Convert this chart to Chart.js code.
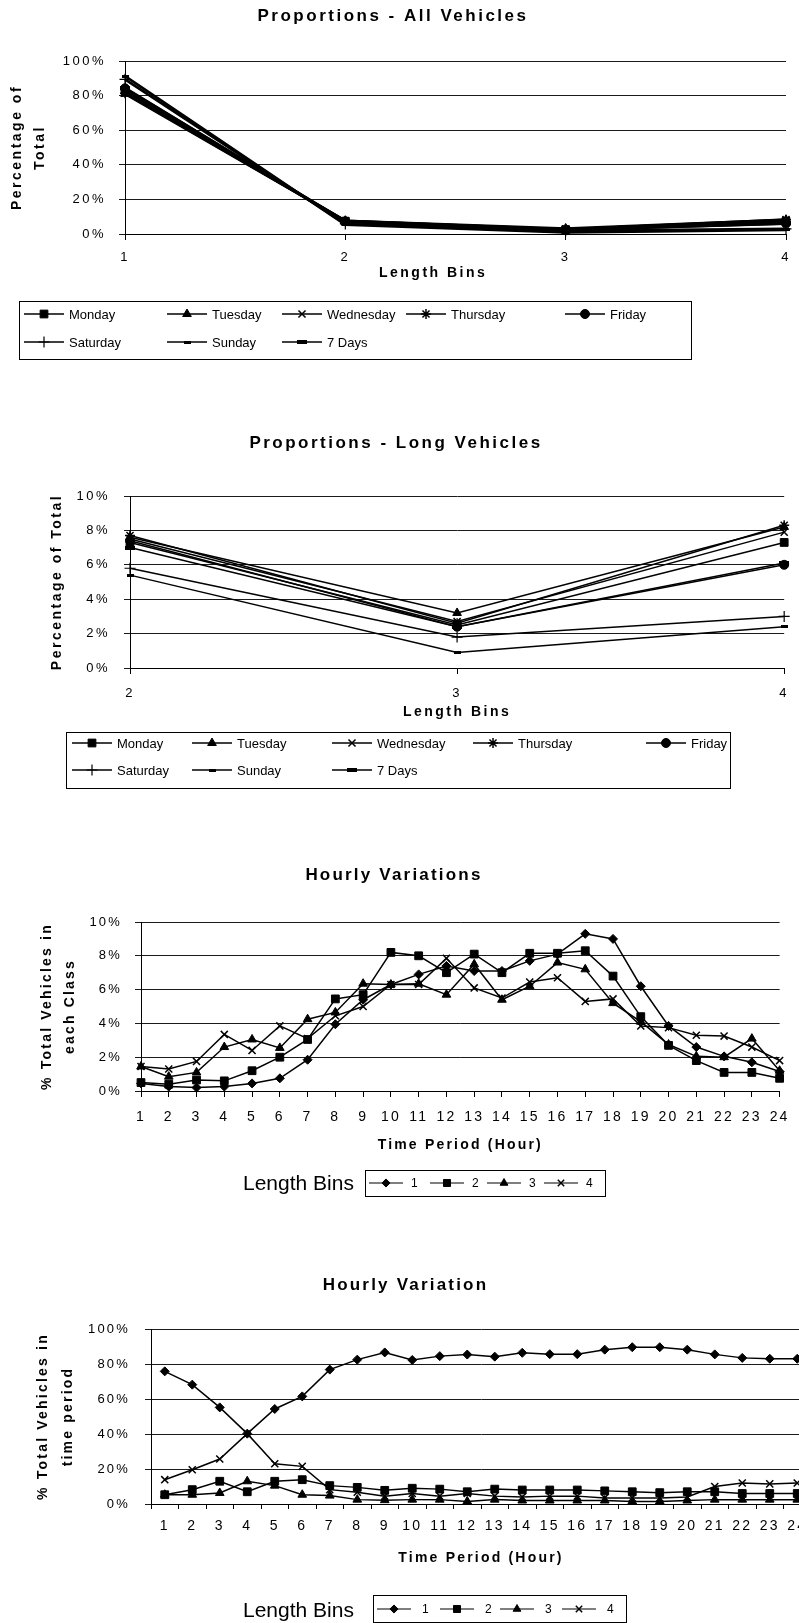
<!DOCTYPE html>
<html>
<head>
<meta charset="utf-8">
<title>Vehicle length proportions and hourly variation</title>
<script src="https://cdn.jsdelivr.net/npm/chart.js@4.4.0/dist/chart.umd.min.js"></script>
<style>
  html, body { margin: 0; padding: 0; background: #fff; width: 799px; height: 1623px; overflow: hidden; position: relative; }
  canvas { position: absolute; left: 0; }
</style>
</head>
<body>
<canvas id="allVehicles" width="799" height="380" style="top:0px"></canvas>
<canvas id="longVehicles" width="799" height="390" style="top:420px"></canvas>
<canvas id="hourlyClass" width="799" height="360" style="top:850px"></canvas>
<canvas id="hourlyPeriod" width="820" height="373" style="top:1250px"></canvas>
<script>
// ---- data -------------------------------------------------------------
const lengthBins = ['1', '2', '3', '4'];
const longBins = ['2', '3', '4'];
const dayNames = ['Monday', 'Tuesday', 'Wednesday', 'Thursday', 'Friday', 'Saturday', 'Sunday', '7 Days'];

// share of all vehicles (%) in length bins 1..4
const monday    = [82.9, 7.3, 2.5, 7.3];
const tuesday   = [81.0, 7.6, 3.2, 8.2];
const wednesday = [81.9, 7.5, 2.7, 7.9];
const thursday  = [81.4, 7.7, 2.6, 8.3];
const friday    = [84.2, 7.4, 2.4, 6.0];
const saturday  = [89.4, 5.8, 1.8, 3.0];
const sunday    = [91.3, 5.4, 0.9, 2.4];
const sevenDays = [84.5, 7.0, 2.4, 6.1];
const daySeries = [monday, tuesday, wednesday, thursday, friday, saturday, sunday, sevenDays];

const hours = ['1','2','3','4','5','6','7','8','9','10','11','12','13','14','15','16','17','18','19','20','21','22','23','24'];
const binLabels = ['1', '2', '3', '4'];

// % of each length class's daily total falling in each hour
const classBin1 = [0.45, 0.26, 0.2, 0.26, 0.45, 0.75, 1.85, 3.95, 5.4, 6.3, 6.9, 7.4, 7.1, 7.1, 7.7, 8.1, 9.3, 9.0, 6.2, 3.85, 2.6, 2.05, 1.7, 1.15];
const classBin2 = [0.5, 0.4, 0.65, 0.6, 1.2, 2.0, 3.05, 5.45, 5.7, 8.2, 8.0, 7.0, 8.1, 7.0, 8.15, 8.15, 8.3, 6.8, 4.4, 2.7, 1.8, 1.1, 1.1, 0.75];
const classBin3 = [1.45, 0.85, 1.1, 2.6, 3.05, 2.55, 4.25, 4.65, 6.35, 6.3, 6.35, 5.7, 7.5, 5.4, 6.2, 7.6, 7.2, 5.2, 4.1, 2.75, 2.05, 2.0, 3.1, 1.2];
const classBin4 = [1.45, 1.3, 1.75, 3.35, 2.4, 3.85, 3.1, 4.45, 5.0, 6.3, 6.3, 7.85, 6.1, 5.5, 6.45, 6.7, 5.3, 5.45, 3.85, 3.75, 3.3, 3.25, 2.6, 1.8];

// % of each hour's traffic belonging to each length class
const periodBin1 = [75.8, 68.2, 55.2, 40.2, 54.3, 61.5, 76.8, 82.5, 86.6, 82.3, 84.5, 85.4, 84.2, 86.4, 85.6, 85.6, 88.2, 89.6, 89.6, 88.2, 85.5, 83.5, 83.0, 83.0];
const periodBin2 = [5.3, 8.2, 13.0, 7.0, 13.0, 13.9, 10.5, 9.5, 7.8, 9.0, 8.5, 7.0, 8.5, 8.0, 8.0, 8.0, 7.5, 7.0, 6.5, 7.0, 7.0, 6.0, 6.0, 6.0];
const periodBin3 = [5.3, 5.3, 6.3, 13.0, 10.5, 5.3, 4.8, 2.5, 2.2, 2.5, 2.5, 1.5, 2.5, 2.0, 2.0, 2.0, 2.0, 1.5, 1.5, 2.0, 2.5, 2.5, 2.5, 2.5];
const periodBin4 = [13.9, 19.6, 25.7, 40.2, 23.0, 21.5, 8.2, 6.7, 4.5, 6.0, 4.5, 6.0, 4.5, 4.0, 4.5, 4.5, 3.5, 3.5, 3.5, 4.0, 10.0, 12.0, 11.5, 12.0];

// ---- shared styling ----------------------------------------------------
const FONT = "'Liberation Sans', Arial, Helvetica, sans-serif";
Chart.defaults.font.family = FONT;
Chart.defaults.color = '#000';
Chart.defaults.animation = false;

function barMarker(w, h) {
  const c = document.createElement('canvas');
  c.width = w; c.height = h;
  const g = c.getContext('2d');
  g.fillStyle = '#000';
  g.fillRect(0, 0, w, h);
  return c;
}

const dayMarkers = [
  { shape: 'rect', r: 5.5, bw: 1 },
  { shape: 'triangle', r: 5, bw: 1 },
  { shape: 'crossRot', r: 5, bw: 1.5 },
  { shape: 'star', r: 5, bw: 1.5 },
  { shape: 'circle', r: 4.5, bw: 1 },
  { shape: 'cross', r: 5.5, bw: 1.2 },
  { shape: barMarker(7, 3), r: 4, bw: 1 },
  { shape: barMarker(10, 4), r: 5, bw: 1 }
];
const binMarkers = [
  { shape: 'rectRot', r: 4.5, bw: 1 },
  { shape: 'rect', r: 5.5, bw: 1 },
  { shape: 'triangle', r: 5, bw: 1 },
  { shape: 'crossRot', r: 5, bw: 1.5 }
];

function series(label, data, marker, width) {
  return {
    label, data,
    borderColor: '#000', backgroundColor: '#000',
    pointBackgroundColor: '#000', pointBorderColor: '#000',
    borderWidth: width, pointStyle: marker.shape, pointRadius: marker.r,
    pointBorderWidth: marker.bw, pointHoverRadius: marker.r,
    tension: 0, fill: false, clip: false
  };
}

// canvas letter spacing for the axis and chart captions
const spacing = {
  id: 'spacing',
  beforeDraw(chart, args, opts) { chart.ctx.letterSpacing = (opts.px || 0) + 'px'; },
  afterDraw(chart) { chart.ctx.letterSpacing = '0px'; }
};

function drawMarker(ctx, marker, x, y) {
  if (Chart.helpers && Chart.helpers.drawPoint) {
    Chart.helpers.drawPoint(ctx, { pointStyle: marker.shape, radius: marker.r, rotation: 0, borderWidth: marker.bw }, x, y);
  }
}

// framed legend: line sample with marker, then the series name
function boxLegend(layout) {
  return {
    id: 'boxLegend',
    afterDraw(chart) {
      const ctx = chart.ctx;
      ctx.save();
      ctx.letterSpacing = '0px';
      ctx.fillStyle = '#000';
      ctx.strokeStyle = '#000';
      ctx.lineWidth = 1;
      const b = layout.box;
      ctx.strokeRect(b[0] + 0.5, b[1] + 0.5, b[2] - b[0], b[3] - b[1]);
      ctx.textBaseline = 'middle';
      ctx.textAlign = 'left';
      if (layout.caption) {
        ctx.font = layout.caption.font;
        ctx.fillText(layout.caption.text, layout.caption.x, layout.caption.y);
      }
      ctx.font = layout.font;
      chart.data.datasets.forEach((ds, i) => {
        const p = layout.items[i];
        const m = layout.markers[i];
        ctx.lineWidth = layout.lineWidth;
        ctx.beginPath();
        ctx.moveTo(p.x, p.y);
        ctx.lineTo(p.x + layout.symWidth, p.y);
        ctx.stroke();
        ctx.lineWidth = m.bw;
        drawMarker(ctx, m, p.x + layout.symWidth / 2, p.y);
        ctx.fillText(ds.label, p.x + layout.symWidth + layout.gap, p.y + 1);
      });
      ctx.restore();
    }
  };
}

function percentAxis(max, step, width, tickPad, titleText, titleLH, titlePad) {
  return {
    min: 0, max: max,
    ticks: { stepSize: step, callback: v => v + '%', font: { size: 13 }, color: '#000', padding: tickPad },
    grid: { color: '#1a1a1a', lineWidth: 1, drawTicks: true, tickLength: 6 },
    border: { color: '#000', width: 1 },
    title: { display: true, text: titleText, color: '#000', font: { size: 14, weight: 'bold', lineHeight: titleLH }, padding: { top: titlePad, bottom: 0 } },
    afterFit(s) { s.width = width; }
  };
}

function categoryAxis(offset, height, tickSize, tickPad, titleText, titlePad, tickLen) {
  return {
    type: 'category', offset: offset,
    grid: { display: true, drawOnChartArea: false, drawTicks: true, tickLength: tickLen, color: '#000', offset: offset },
    border: { color: '#000', width: 1 },
    ticks: { font: { size: tickSize }, color: '#000', padding: tickPad, maxRotation: 0, autoSkip: false },
    title: { display: true, text: titleText, color: '#000', font: { size: 14, weight: 'bold', lineHeight: 1.2 }, padding: { top: 0, bottom: titlePad } },
    afterFit(s) { s.height = height; }
  };
}

function chartTitle(text, padTop, padBottom) {
  return { display: true, text: text, color: '#000', font: { size: 17, weight: 'bold', lineHeight: 1.2 }, padding: { top: padTop, bottom: padBottom } };
}

const smallBinMarkers = binMarkers.map(m => ({ shape: m.shape, r: m.r * 0.9, bw: m.bw }));

// ---- Proportions - All Vehicles ---------------------------------------
new Chart(document.getElementById('allVehicles'), {
  type: 'line',
  data: { labels: lengthBins, datasets: daySeries.map((d, i) => series(dayNames[i], d, dayMarkers[i], 2.6)) },
  options: {
    responsive: false,
    layout: { padding: { left: 0, top: 0, right: 13, bottom: 96 } },
    plugins: { legend: { display: false }, tooltip: { enabled: false }, title: chartTitle('Proportions - All Vehicles', 6, 34.6), spacing: { px: 2.5 } },
    scales: {
      // trailing blanks pull the caption left of the plot centre
      x: categoryAxis(false, 50, 13, 9.2, 'Length Bins       ', 2.6, 6),
      y: percentAxis(100, 20, 125, 13, ['Percentage of', 'Total'], 1.64, 5.5)
    }
  },
  plugins: [spacing, boxLegend({
    box: [19, 301, 691, 359], font: '13px ' + FONT, symWidth: 40, gap: 5, lineWidth: 1.5, markers: dayMarkers,
    items: [
      { x: 24, y: 314 }, { x: 167, y: 314 }, { x: 282, y: 314 }, { x: 406, y: 314 }, { x: 565, y: 314 },
      { x: 24, y: 342 }, { x: 167, y: 342 }, { x: 282, y: 342 }
    ]
  })]
});

// ---- Proportions - Long Vehicles --------------------------------------
new Chart(document.getElementById('longVehicles'), {
  type: 'line',
  data: { labels: longBins, datasets: daySeries.map((d, i) => series(dayNames[i], d.slice(1), dayMarkers[i], 1.5)) },
  options: {
    responsive: false,
    layout: { padding: { left: 0, top: 0, right: 7, bottom: 88 } },
    plugins: { legend: { display: false }, tooltip: { enabled: false }, title: chartTitle('Proportions - Long Vehicles', 12.8, 42.8), spacing: { px: 2.5 } },
    scales: {
      x: categoryAxis(false, 54, 13, 11.2, 'Length Bins', 1.6, 6),
      y: percentAxis(10, 2, 130, 14, 'Percentage of Total', 1.2, 48.6)
    }
  },
  plugins: [spacing, boxLegend({
    box: [66, 312, 730, 368], font: '13px ' + FONT, symWidth: 40, gap: 5, lineWidth: 1.5, markers: dayMarkers,
    items: [
      { x: 72, y: 323 }, { x: 192, y: 323 }, { x: 332, y: 323 }, { x: 473, y: 323 }, { x: 646, y: 323 },
      { x: 72, y: 350 }, { x: 192, y: 350 }, { x: 332, y: 350 }
    ]
  })]
});

// ---- Hourly Variations (share of each class by hour) ------------------
new Chart(document.getElementById('hourlyClass'), {
  type: 'line',
  data: { labels: hours, datasets: [classBin1, classBin2, classBin3, classBin4].map((d, i) => series(binLabels[i], d, binMarkers[i], 1.5)) },
  options: {
    responsive: false,
    layout: { padding: { left: 0, top: 0, right: 11, bottom: 55 } },
    plugins: { legend: { display: false }, tooltip: { enabled: false }, title: chartTitle('Hourly Variations', 14.8, 36.8), spacing: { px: 2.2 } },
    scales: {
      x: categoryAxis(false, 64, 14, 11.6, 'Time Period (Hour)', 1.6, 6),
      y: percentAxis(10, 2, 141, 13, ['% Total Vehicles in', 'each Class'], 1.64, 35.5)
    }
  },
  plugins: [spacing, boxLegend({
    box: [365, 320, 605, 346], font: '12px ' + FONT, symWidth: 34, gap: 8, lineWidth: 1.2,
    markers: smallBinMarkers,
    caption: { text: 'Length Bins', x: 243, y: 334, font: '21px ' + FONT },
    items: [ { x: 369, y: 333 }, { x: 430, y: 333 }, { x: 487, y: 333 }, { x: 544, y: 333 } ]
  })]
});

// ---- Hourly Variation (class mix within each hour) --------------------
new Chart(document.getElementById('hourlyPeriod'), {
  type: 'line',
  data: { labels: hours, datasets: [periodBin1, periodBin2, periodBin3, periodBin4].map((d, i) => series(binLabels[i], d, binMarkers[i], 1.5)) },
  options: {
    responsive: false,
    layout: { padding: { left: 0, top: 0, right: 9, bottom: 55 } },
    plugins: { legend: { display: false }, tooltip: { enabled: false }, title: chartTitle('Hourly Variation', 24.8, 33.8), spacing: { px: 2.2 } },
    scales: {
      x: categoryAxis(true, 64, 14, 8.6, 'Time Period (Hour)', 1.6, 5),
      y: percentAxis(100, 20, 151, 15, ['% Total Vehicles in', 'time period'], 1.78, 30.5)
    }
  },
  plugins: [spacing, boxLegend({
    box: [373, 345, 626, 372], font: '12px ' + FONT, symWidth: 34, gap: 11, lineWidth: 1.2,
    markers: smallBinMarkers,
    caption: { text: 'Length Bins', x: 243, y: 361, font: '21px ' + FONT },
    items: [ { x: 377, y: 359 }, { x: 440, y: 359 }, { x: 500, y: 359 }, { x: 562, y: 359 } ]
  })]
});
</script>
</body>
</html>
